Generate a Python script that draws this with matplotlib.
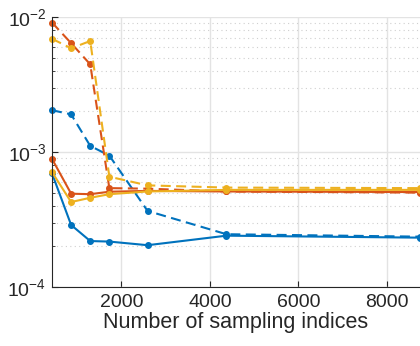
import matplotlib
matplotlib.use("Agg")
import matplotlib.pyplot as plt
from matplotlib.ticker import LogLocator, FixedLocator, NullFormatter

plt.rcParams['font.family'] = ['Liberation Sans', 'DejaVu Sans']
plt.rcParams['mathtext.default'] = 'regular'

x = [432, 864, 1296, 1728, 2592, 4374, 8748]

blue_solid = [6.95e-4, 2.88e-4, 2.19e-4, 2.17e-4, 2.04e-4, 2.40e-4, 2.32e-4]
blue_dashed = [2.04e-3, 1.90e-3, 1.11e-3, 9.4e-4, 3.66e-4, 2.46e-4, 2.36e-4]
red_solid = [8.9e-4, 4.91e-4, 4.87e-4, 5.08e-4, 5.15e-4, 5.1e-4, 5.05e-4]
red_dashed = [9.1e-3, 6.4e-3, 4.46e-3, 5.4e-4, 5.35e-4, 5.1e-4, 5.0e-4]
yellow_solid = [7.1e-4, 4.26e-4, 4.58e-4, 4.87e-4, 5.1e-4, 5.24e-4, 5.24e-4]
yellow_dashed = [6.9e-3, 5.86e-3, 6.64e-3, 6.56e-4, 5.66e-4, 5.45e-4, 5.4e-4]

xticks = [2000, 4000, 6000, 8000]
xlabel = "Number of sampling indices"

BLUE = '#0072BD'
RED = '#D95319'
YELLOW = '#EDB120'
TXT = '#262626'

fig = plt.figure(figsize=(4.2, 3.46), dpi=100)
ax = fig.add_axes([52/420, 59/346, 368/420, 270/346])

dash = (0, (4.8, 2.6))
series = [
    (blue_dashed, BLUE, dash),
    (red_dashed, RED, dash),
    (yellow_dashed, YELLOW, dash),
    (blue_solid, BLUE, '-'),
    (red_solid, RED, '-'),
    (yellow_solid, YELLOW, '-'),
]
for vals, c, ls in series:
    ax.plot(x, vals, color=c, linestyle=ls, linewidth=1.5, marker='o',
            markersize=4, markerfacecolor=c, markeredgecolor=c, clip_on=False)

ax.set_yscale('log')
ax.set_ylim(1e-4, 1e-2)
ax.set_xlim(x[0], x[-1])
ax.xaxis.set_major_locator(FixedLocator(xticks))
ax.yaxis.set_major_locator(LogLocator(base=10, numticks=10))
ax.yaxis.set_minor_locator(LogLocator(base=10, subs=range(2, 10), numticks=20))
ax.yaxis.set_minor_formatter(NullFormatter())

ax.grid(True, which='major', color='#e3e3e3', linewidth=1.0, linestyle='-')
ax.grid(True, which='minor', axis='y', color='#cfcfcf', linewidth=0.8, linestyle=(0, (1, 3)))
ax.set_axisbelow(True)

for s in ['top', 'right']:
    ax.spines[s].set_visible(False)
for s in ['left', 'bottom']:
    ax.spines[s].set_color(TXT)
    ax.spines[s].set_linewidth(0.8)

ax.tick_params(which='both', direction='in', colors=TXT, labelsize=14, top=False, right=False)
ax.tick_params(which='major', length=4)
ax.tick_params(which='minor', length=2)
ax.tick_params(axis='x', pad=5)
ax.tick_params(axis='y', pad=4)
ax.set_xlabel(xlabel, fontsize=15.5, color=TXT, labelpad=1)

fig.savefig('out.png', dpi=100)
